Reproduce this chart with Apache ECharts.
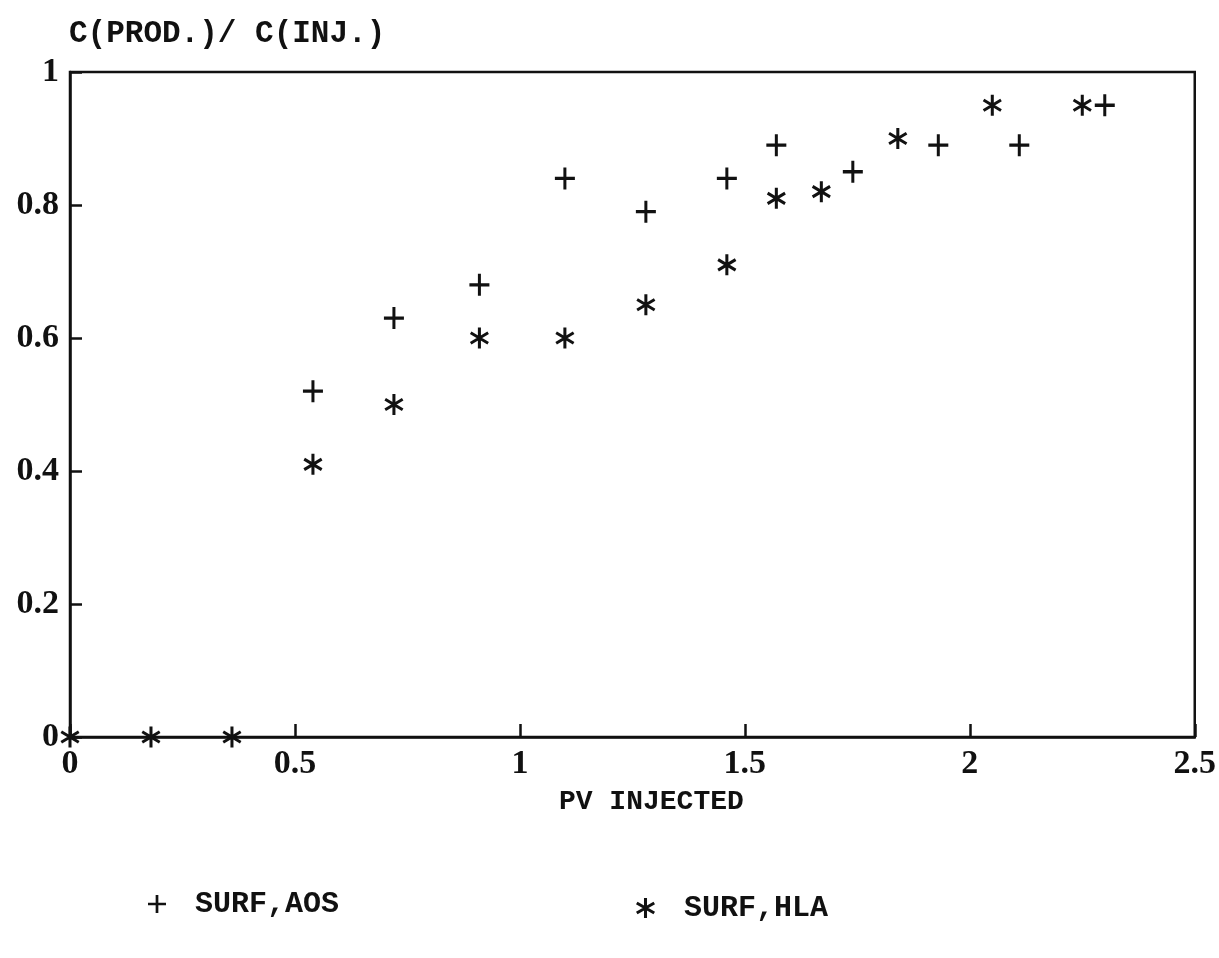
<!DOCTYPE html>
<html>
<head>
<meta charset="utf-8">
<script src="https://cdn.jsdelivr.net/npm/echarts@6/dist/echarts.min.js"></script>
<style>
  html, body { margin: 0; padding: 0; background: #fff; }
  #chart { width: 1219px; height: 958px; }
</style>
</head>
<body>
<div id="chart"></div>
<script>
// SURF,AOS (+)
var aosX = [0.54, 0.72, 0.91, 1.10, 1.28, 1.46, 1.57, 1.74, 1.93, 2.11, 2.30];
var aosY = [0.52, 0.63, 0.68, 0.84, 0.79, 0.84, 0.89, 0.85, 0.89, 0.89, 0.95];
// SURF,HLA (*)
var hlaX = [0, 0.18, 0.36, 0.54, 0.72, 0.91, 1.10, 1.28, 1.46, 1.57, 1.67, 1.84, 2.05, 2.25];
var hlaY = [0, 0, 0, 0.41, 0.50, 0.60, 0.60, 0.65, 0.71, 0.81, 0.82, 0.90, 0.95, 0.95];

var plusPath = 'path://M8.5,0h3v8.5h8.5v3h-8.5v8.5h-3v-8.5h-8.5v-3h8.5z';
var starPath = 'path://M8.5,20L11.5,20L11.5,0L8.5,0Z' +
  'M17.9,16.3L19.4,13.7L2.1,3.7L0.6,6.3Z' +
  'M0.6,13.7L2.1,16.3L19.4,6.3L17.9,3.7Z';

var serif = '"Liberation Serif", "DejaVu Serif", serif';
var mono = '"Liberation Mono", "DejaVu Sans Mono", monospace';

function pairs(xs, ys) {
  var out = [];
  xs.forEach(function (v, i) { out.push([v, ys[i]]); });
  return out;
}

var chart = echarts.init(document.getElementById('chart'));
chart.setOption({
  animation: false,
  backgroundColor: '#fff',
  title: {
    text: 'C(PROD.)/ C(INJ.)',
    left: 64,
    top: 14,
    textStyle: { fontFamily: mono, fontSize: 31, fontWeight: 'bold', color: '#111' }
  },
  legend: [{
    left: 143,
    top: 884,
    itemWidth: 18,
    itemHeight: 20,
    data: [{ name: 'SURF,AOS', icon: plusPath }],
    textStyle: { fontFamily: mono, fontSize: 30, fontWeight: 'bold', color: '#111', padding: [0, 0, 0, 24] }
  }, {
    left: 631,
    top: 888,
    itemWidth: 19,
    itemHeight: 21,
    data: [{ name: 'SURF,HLA', icon: starPath }],
    textStyle: { fontFamily: mono, fontSize: 30, fontWeight: 'bold', color: '#111', padding: [0, 0, 0, 24] }
  }],
  grid: {
    left: 70,
    right: 24,
    top: 72,
    bottom: 221,
    show: true,
    borderColor: '#111',
    borderWidth: 2.5
  },
  xAxis: {
    type: 'value',
    min: 0,
    max: 2.5,
    interval: 0.5,
    name: 'PV INJECTED',
    nameLocation: 'middle',
    nameGap: 51,
    nameTextStyle: { fontFamily: mono, fontSize: 28, fontWeight: 'bold', color: '#111', padding: [0, 0, 0, 38] },
    splitLine: { show: false },
    axisLine: { lineStyle: { color: '#111', width: 2.5 } },
    axisTick: { inside: true, length: 13, lineStyle: { color: '#111', width: 2.5 } },
    axisLabel: {
      margin: 10,
      fontFamily: serif, fontSize: 34, fontWeight: 'bold', color: '#111',
      formatter: function (v) { return String(v); }
    }
  },
  yAxis: {
    type: 'value',
    min: 0,
    max: 1,
    interval: 0.2,
    splitLine: { show: false },
    axisLine: { lineStyle: { color: '#111', width: 2.5 } },
    axisTick: { inside: true, length: 12, lineStyle: { color: '#111', width: 2.5 } },
    axisLabel: {
      margin: 11,
      fontFamily: serif, fontSize: 34, fontWeight: 'bold', color: '#111',
      formatter: function (v) { return String(v); }
    }
  },
  series: [{
    name: 'SURF,AOS',
    type: 'scatter',
    symbol: plusPath,
    symbolSize: [20, 22],
    clip: false,
    itemStyle: { color: '#111', opacity: 1 },
    data: pairs(aosX, aosY)
  }, {
    name: 'SURF,HLA',
    type: 'scatter',
    symbol: starPath,
    symbolSize: [19, 21],
    clip: false,
    itemStyle: { color: '#111', opacity: 1 },
    data: pairs(hlaX, hlaY)
  }]
});
</script>
</body>
</html>
